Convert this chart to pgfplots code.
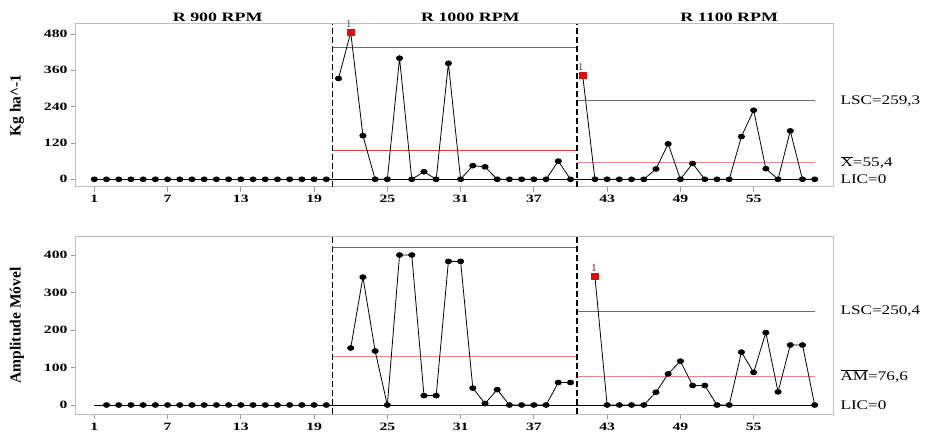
\documentclass[border=0pt]{standalone}
\usepackage{fontspec}
\setmainfont{Liberation Serif}
\newfontfamily\wide[FakeStretch=1.4]{Liberation Serif}
\newfontfamily\widel[FakeStretch=1.3]{Liberation Serif}
\usepackage{pgfplots}
\pgfplotsset{compat=1.18}

\definecolor{lscgray}{HTML}{6A6A6A}
\definecolor{meanredA}{HTML}{E03A3A}
\definecolor{meanredB}{HTML}{EE8585}
\definecolor{outred}{HTML}{D81010}
\definecolor{onelab}{HTML}{3A3A70}

\tikzset{
  stagesep/.style={black, line width=1.8pt, dash pattern=on 6pt off 3pt},
  rlab/.style={anchor=west, font=\widel\fontsize{13.2}{15}\selectfont, xshift=4pt},
}

\pgfplotsset{
  spc/.style={
    scale only axis, width=757pt, xmin=-0.5, xmax=61.5,
    axis line style={draw=black!25, line width=1pt},
    tick style={black!40, line width=0.8pt},
    tick align=outside, major tick length=5pt,
    xtick pos=bottom, ytick pos=left,
    xtick={1,7,...,55},
    clip=false,
    /pgf/number format/assume math mode=true,
    ticklabel style={font=\wide\bfseries\fontsize{11.2}{12}\selectfont},
    ylabel style={font=\bfseries\fontsize{15.5}{17}\selectfont, at={(axis description cs:-0.078,0.5)}, anchor=center},
  },
  datal/.style={black, line width=0.8pt, mark=*, mark size=2.4pt, mark options={xscale=1.3, fill=black}},
  outl/.style={only marks, mark=square*, mark size=2.8pt, color=outred, mark options={xscale=1.25, fill=outred, draw=outred}},
  limline/.style={line width=0.8pt, forget plot},
}

\begin{document}
\begin{tikzpicture}
\useasboundingbox (0,0) rectangle (926pt,-435pt);

% ---------------- Top: individual values ----------------
\begin{axis}[spc, at={(76pt,-24pt)}, anchor=north west, height=163pt,
  ymin=-25.5, ymax=513, ytick={0,120,...,480},
  ylabel={Kg ha\textasciicircum -1}]
  % limit lines
  \addplot[limline, black] coordinates {(1,0) (20.5,0)};
  \addplot[limline, lscgray] coordinates {(20.5,437) (40.5,437)};
  \addplot[limline, meanredA] coordinates {(20.5,96) (40.5,96)};
  \addplot[limline, black] coordinates {(20.5,0) (40.5,0)};
  \addplot[limline, lscgray] coordinates {(40.5,259.3) (60,259.3)};
  \addplot[limline, meanredB] coordinates {(40.5,55.4) (60,55.4)};
  \addplot[limline, black] coordinates {(40.5,0) (60,0)};
  % data
  \addplot[datal] coordinates {(1,0) (2,0) (3,0) (4,0) (5,0) (6,0) (7,0) (8,0) (9,0) (10,0)
    (11,0) (12,0) (13,0) (14,0) (15,0) (16,0) (17,0) (18,0) (19,0) (20,0)};
  \addplot[datal] coordinates {(21,333) (22,485) (23,144) (24,0) (25,0) (26,400) (27,0) (28,25) (29,0) (30,383)
    (31,0) (32,45) (33,41) (34,0) (35,0) (36,0) (37,0) (38,0) (39,60) (40,0)};
  \addplot[datal] coordinates {(41,343) (42,0) (43,0) (44,0) (45,0) (46,0) (47,34) (48,117) (49,0) (50,52)
    (51,0) (52,0) (53,0) (54,141) (55,228) (56,35) (57,0) (58,160) (59,0) (60,0)};
  \addplot[outl] coordinates {(22,485) (41,343)};
  % stage separators
  \draw[stagesep] (axis cs:20.5,-25.5) -- (axis cs:20.5,513);
  \draw[stagesep] (axis cs:40.5,-25.5) -- (axis cs:40.5,513);
  \node[anchor=south, font=\fontsize{10.5}{10}\selectfont, text=onelab, xshift=-2pt, yshift=1pt] at (axis cs:22,485) {1};
  \node[anchor=south, font=\fontsize{10.5}{10}\selectfont, text=onelab, xshift=-2pt, yshift=1pt] at (axis cs:41,343) {1};
  % titles
  \node[anchor=base, font=\wide\bfseries\fontsize{12.8}{14}\selectfont, yshift=2pt] at (axis cs:11.1,513) {R 900 RPM};
  \node[anchor=base, font=\wide\bfseries\fontsize{12.8}{14}\selectfont, yshift=2pt] at (axis cs:31.8,513) {R 1000 RPM};
  \node[anchor=base, font=\wide\bfseries\fontsize{12.8}{14}\selectfont, yshift=2pt] at (axis cs:53.0,513) {R 1100 RPM};
  % right labels
  \node[rlab] at (axis cs:61.5,259.3) {LSC=259,3};
  \node[rlab] at (axis cs:61.5,55.4) {$\overline{\hbox{X}}$=55,4};
  \node[rlab] at (axis cs:61.5,0) {LIC=0};
\end{axis}

% ---------------- Bottom: moving range ----------------
\begin{axis}[spc, at={(76pt,-236.7pt)}, anchor=north west, height=177.6pt,
  ymin=-24.8, ymax=448.8, ytick={0,100,...,400},
  ylabel={Amplitude Móvel}]
  \addplot[limline, black] coordinates {(1,0) (20.5,0)};
  \addplot[limline, lscgray] coordinates {(20.5,421) (40.5,421)};
  \addplot[limline, meanredB] coordinates {(20.5,129) (40.5,129)};
  \addplot[limline, black] coordinates {(20.5,0) (40.5,0)};
  \addplot[limline, lscgray] coordinates {(40.5,250.4) (60,250.4)};
  \addplot[limline, meanredB] coordinates {(40.5,76.6) (60,76.6)};
  \addplot[limline, black] coordinates {(40.5,0) (60,0)};
  \addplot[datal] coordinates {(2,0) (3,0) (4,0) (5,0) (6,0) (7,0) (8,0) (9,0) (10,0)
    (11,0) (12,0) (13,0) (14,0) (15,0) (16,0) (17,0) (18,0) (19,0) (20,0)};
  \addplot[datal] coordinates {(22,152) (23,341) (24,144) (25,0) (26,400) (27,400) (28,25) (29,25) (30,383)
    (31,383) (32,45) (33,4) (34,41) (35,0) (36,0) (37,0) (38,0) (39,60) (40,60)};
  \addplot[datal] coordinates {(42,343) (43,0) (44,0) (45,0) (46,0) (47,34) (48,83) (49,117) (50,52)
    (51,52) (52,0) (53,0) (54,141) (55,87) (56,193) (57,35) (58,160) (59,160) (60,0)};
  \addplot[outl] coordinates {(42,343)};
  \draw[stagesep] (axis cs:20.5,-24.8) -- (axis cs:20.5,448.8);
  \draw[stagesep] (axis cs:40.5,-24.8) -- (axis cs:40.5,448.8);
  \node[anchor=south, font=\fontsize{10.5}{10}\selectfont, text=outred!60!black, xshift=-1pt, yshift=1pt] at (axis cs:42,343) {1};
  \node[rlab] at (axis cs:61.5,250.4) {LSC=250,4};
  \node[rlab] at (axis cs:61.5,76.6) {$\overline{\hbox{AM}}$=76,6};
  \node[rlab] at (axis cs:61.5,0) {LIC=0};
\end{axis}
\end{tikzpicture}
\end{document}
